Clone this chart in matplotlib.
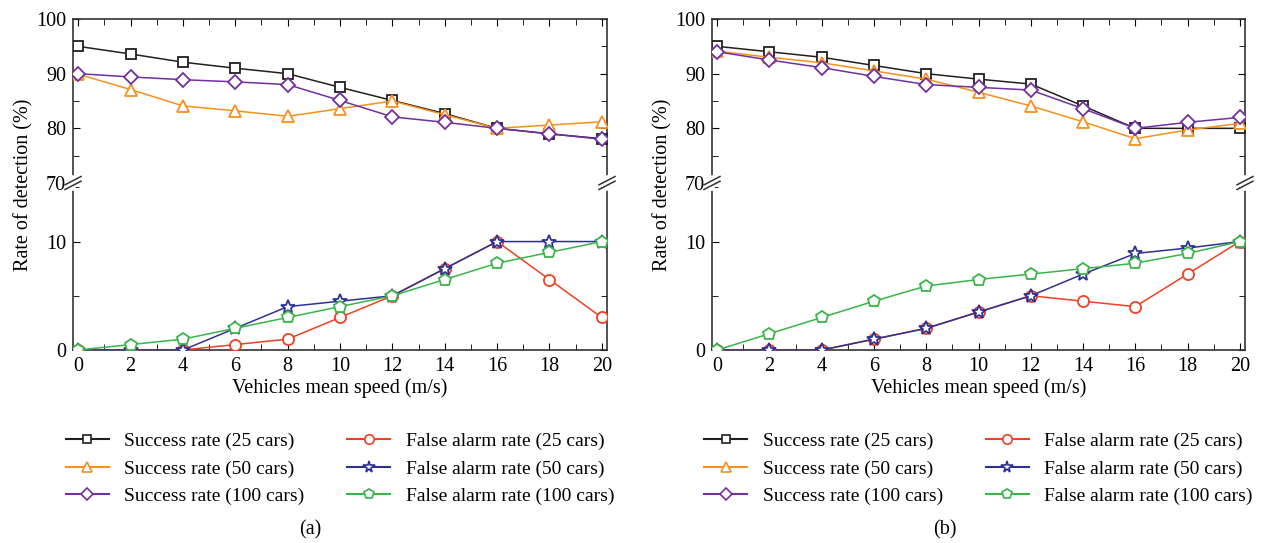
import numpy as np
import matplotlib
matplotlib.use("Agg")
import matplotlib.pyplot as plt
from matplotlib.ticker import MultipleLocator
from matplotlib.lines import Line2D

plt.rcParams["font.family"] = ["Liberation Serif", "DejaVu Serif"]

speed = [0, 2, 4, 6, 8, 10, 12, 14, 16, 18, 20]

# panel (a)
a_succ_25 = [95, 93.6, 92.1, 91, 90, 87.5, 85.1, 82.7, 80, 79, 78.1]
a_succ_50 = [89.9, 87.1, 84.1, 83.2, 82.2, 83.6, 85, 82.5, 80, 80.6, 81.2]
a_succ_100 = [90, 89.4, 88.9, 88.5, 88, 85.1, 82.1, 81.1, 80, 79, 78]
a_fa_25 = [0, 0, 0, 0.5, 1, 3, 5, 7.5, 10, 6.5, 3]
a_fa_50 = [0, 0, 0, 2, 4, 4.5, 5, 7.5, 10, 10, 10]
a_fa_100 = [0, 0.5, 1, 2, 3, 4, 5, 6.5, 8, 9, 10]

# panel (b)
b_succ_25 = [95, 94, 93, 91.5, 90, 89, 88.1, 84.1, 80, 80, 80]
b_succ_50 = [94.1, 93, 92, 90.5, 89, 86.6, 84.1, 81.2, 78.1, 79.7, 80.9]
b_succ_100 = [94, 92.5, 91.1, 89.5, 88, 87.5, 87, 83.6, 80, 81.1, 82]
b_fa_25 = [0, 0, 0, 1, 2, 3.5, 5, 4.5, 4, 7, 10]
b_fa_50 = [0, 0, 0, 1, 2, 3.5, 5, 7, 8.9, 9.4, 10]
b_fa_100 = [0, 1.5, 3, 4.5, 5.9, 6.5, 7, 7.5, 8, 8.9, 10]

labels = ["Success rate (25 cars)", "Success rate (50 cars)", "Success rate (100 cars)",
          "False alarm rate (25 cars)", "False alarm rate (50 cars)", "False alarm rate (100 cars)"]
colors = ["#231f20", "#f7901e", "#7030a0", "#ef4123", "#2e3192", "#39b54a"]
markers = ["s", "^", "D", "o", "*", "p"]
msizes = [7, 9, 7.5, 8, 10, 9]

W, H = 1261, 543
fig = plt.figure(figsize=(W / 100, H / 100), dpi=100)


def px_ax(x0, x1, y0, y1):
    return fig.add_axes([x0 / W, 1 - y1 / H, (x1 - x0) / W, (y1 - y0) / H])


def style(ax):
    ax.tick_params(direction="in", which="both", top=True, right=True, labelsize=14.5, pad=5)
    ax.tick_params(which="major", length=5)
    ax.tick_params(which="minor", length=4)
    for s in ax.spines.values():
        s.set_linewidth(1.2)
        s.set_color("#333333")


def break_mark(ax, xfrac):
    # two short slashes across the spine at the top of the lower axes
    ax.plot([xfrac, xfrac], [0.97, 1.03], color="white", lw=4, transform=ax.transAxes,
            clip_on=False, zorder=9)
    kw = dict(transform=ax.transAxes, clip_on=False, color="#333333", lw=1.1, zorder=10)
    d = 0.015
    for off in (-0.014, 0.014):
        ax.plot([xfrac - d, xfrac + d], [1 + off - 0.025, 1 + off + 0.025], **kw)


def panel(x0, x1, series, tag, tag_x):
    top = px_ax(x0, x1, 19, 183)
    bot = px_ax(x0, x1, 183, 350)
    for i, ys in enumerate(series):
        ax = top if i < 3 else bot
        ax.plot(speed, ys, color=colors[i], marker=markers[i], ms=msizes[i], mfc="white",
                mec=colors[i], mew=1.3, lw=1.1, zorder=3 + i)
    for ax in (top, bot):
        ax.set_xlim(-0.2, 20.2)
        ax.xaxis.set_major_locator(MultipleLocator(2))
        ax.xaxis.set_minor_locator(MultipleLocator(1))
        style(ax)
    top.set_ylim(70, 100)
    top.yaxis.set_major_locator(MultipleLocator(10))
    top.yaxis.set_minor_locator(MultipleLocator(5))
    top.spines["bottom"].set_visible(False)
    top.tick_params(axis="x", which="both", bottom=False, labelbottom=False)
    bot.set_ylim(0, 15.4)
    bot.set_yticks([0, 10])
    bot.yaxis.set_minor_locator(MultipleLocator(5))
    bot.spines["top"].set_visible(False)
    bot.tick_params(axis="x", which="both", top=False)
    bot.set_xlabel("Vehicles mean speed (m/s)", fontsize=14.5, labelpad=2)
    fig.text((x0 - 49) / W, 1 - 185 / H, "Rate of detection (%)", rotation=90,
             ha="center", va="center", fontsize=14.5)
    break_mark(bot, 0.0)
    break_mark(bot, 1.0)
    handles = [Line2D([], [], color=colors[i], marker=markers[i], ms=msizes[i] * 0.85,
                      mfc="white", mec=colors[i], mew=1.2, lw=1.5) for i in range(6)]
    bot.legend(handles, labels, loc="upper center", bbox_to_anchor=(0.5, -0.39), ncol=2,
               frameon=False, fontsize=14, handlelength=2.2, columnspacing=2.2,
               labelspacing=0.5, handletextpad=0.8)
    fig.text(tag_x / W, 1 - 530 / H, tag, ha="center", va="center", fontsize=14.5)


panel(73, 607, [a_succ_25, a_succ_50, a_succ_100, a_fa_25, a_fa_50, a_fa_100], "(a)", 310)
panel(712, 1245, [b_succ_25, b_succ_50, b_succ_100, b_fa_25, b_fa_50, b_fa_100], "(b)", 945)

fig.savefig("out.png", dpi=100)
